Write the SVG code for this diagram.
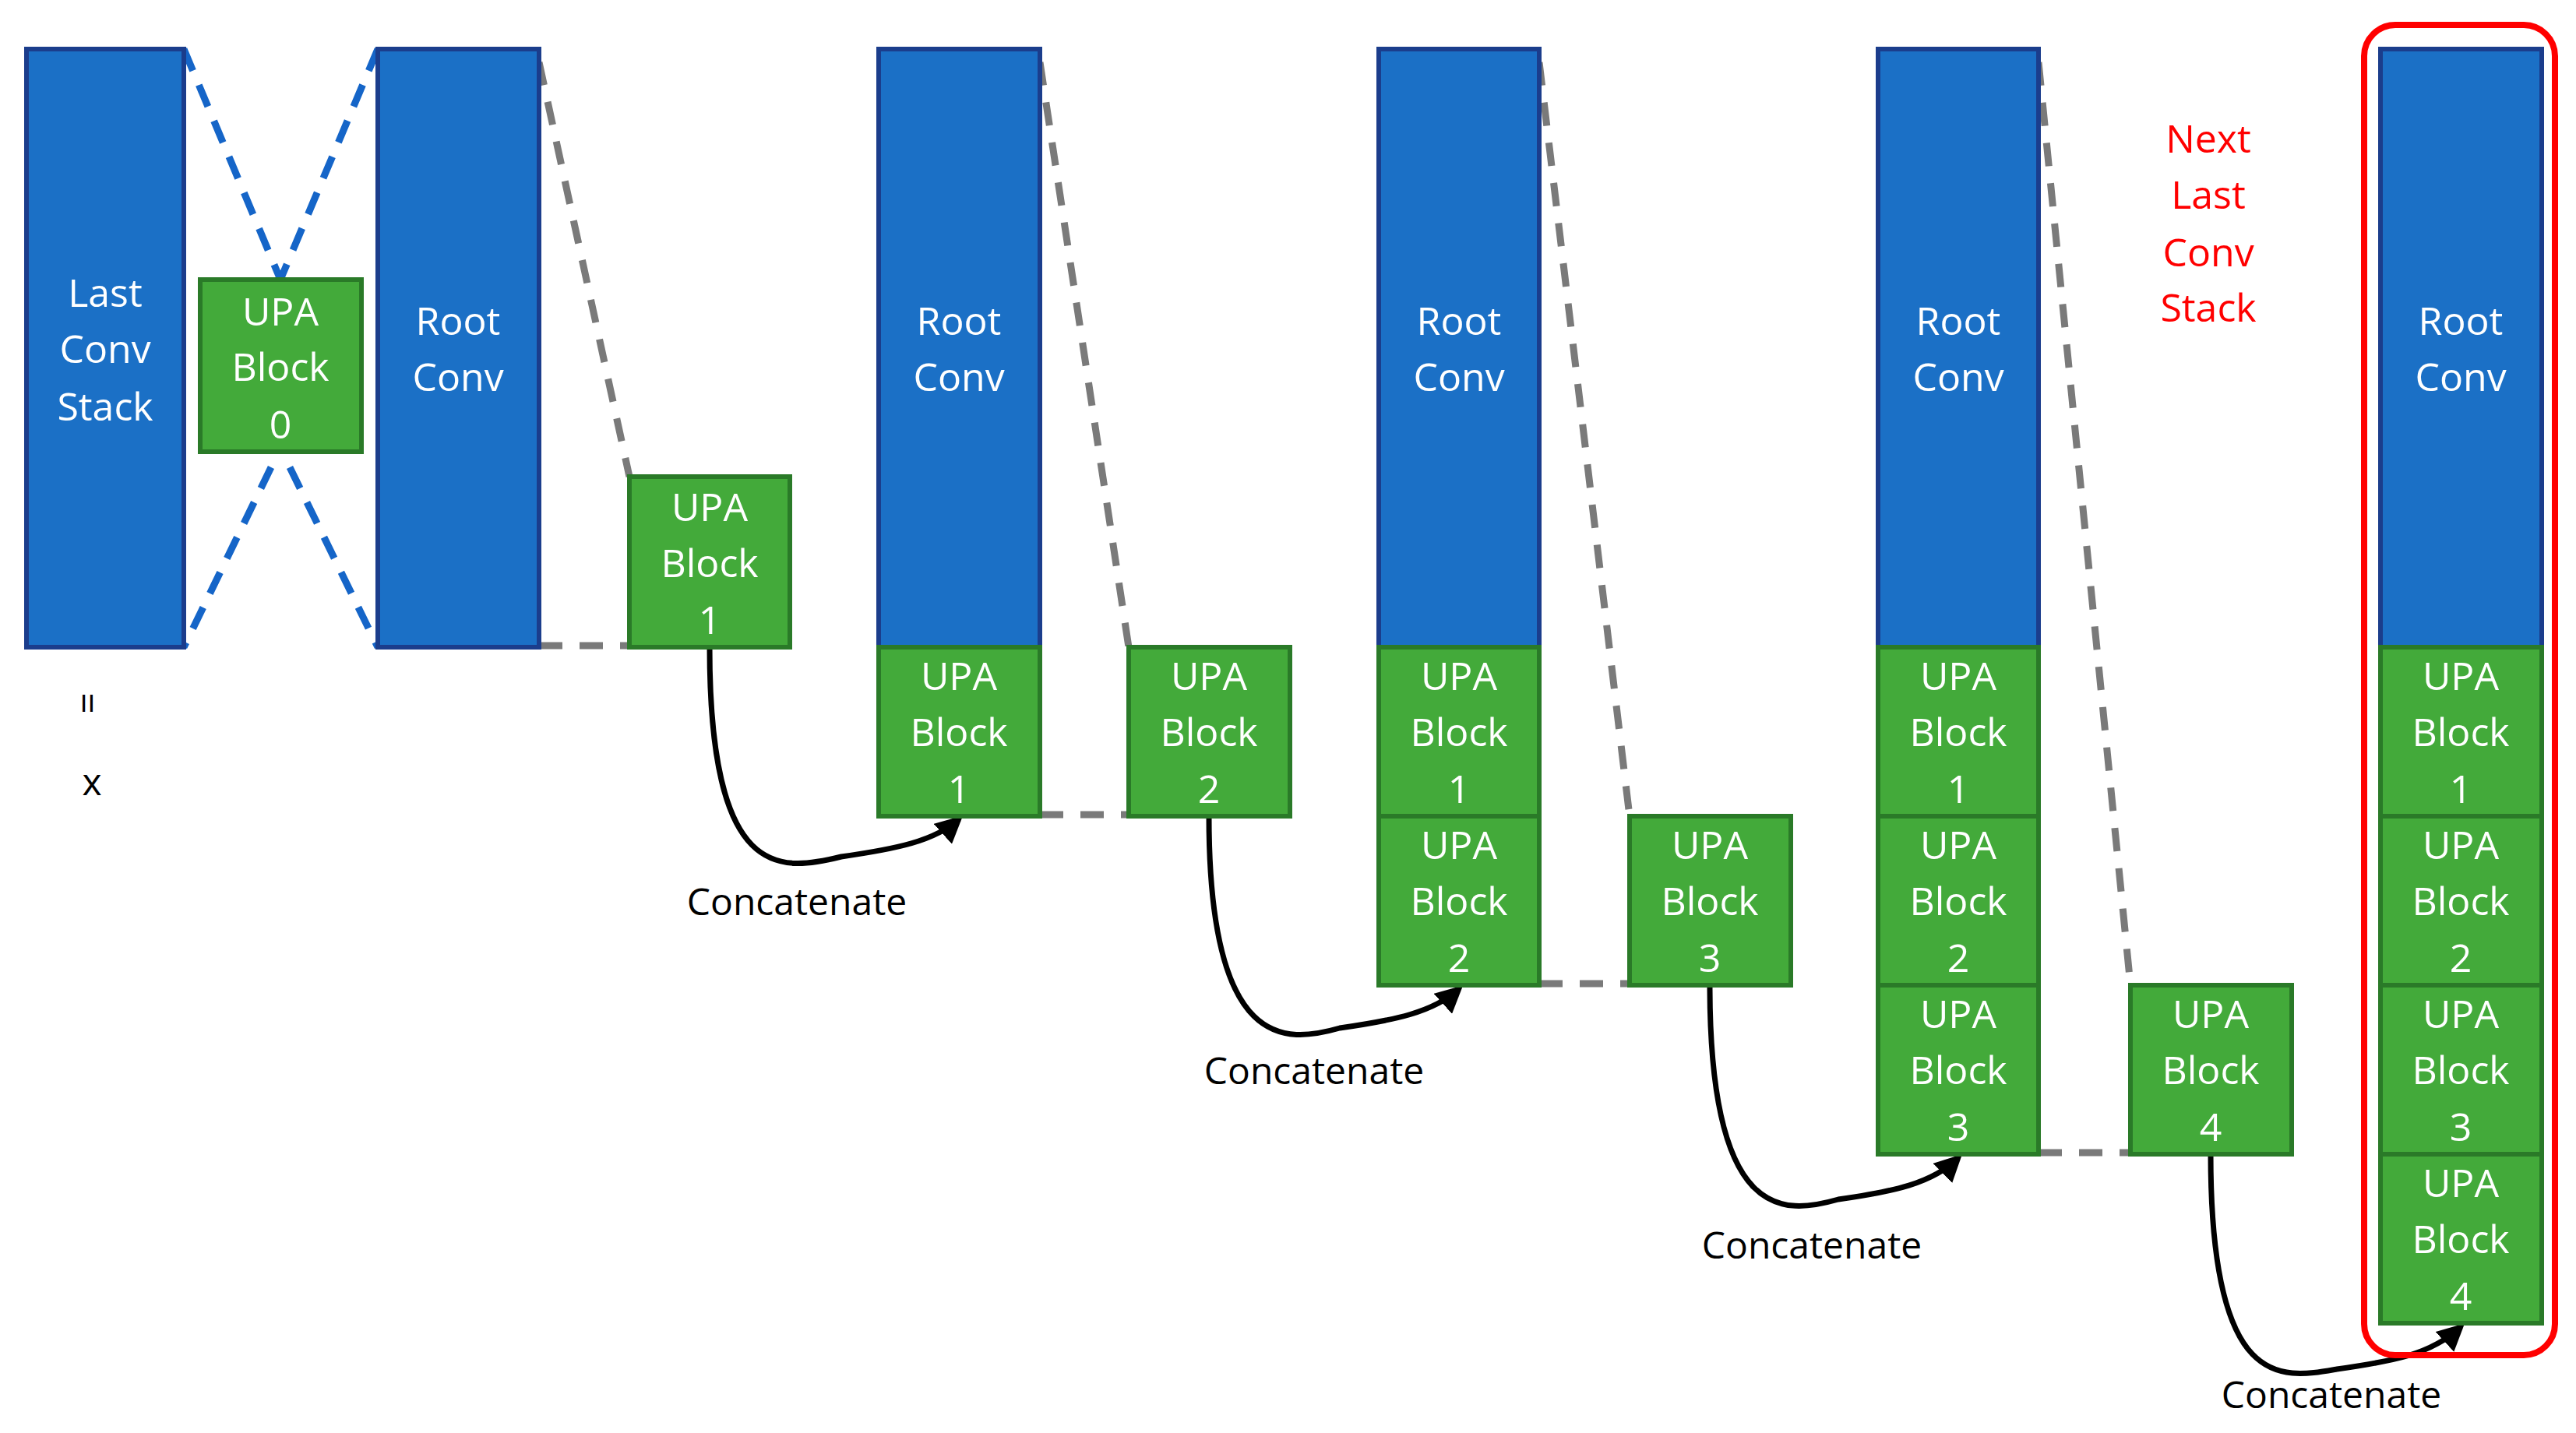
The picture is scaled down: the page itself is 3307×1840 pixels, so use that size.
<svg xmlns="http://www.w3.org/2000/svg" width="3307" height="1840" viewBox="0 0 3307 1840">
<defs>
<style>
.b{fill:#1b70c6;stroke:#1b3d8c;stroke-width:6}
.g{fill:#43aa3a;stroke:#2a7a28;stroke-width:6}
.t{font-family:"Open Sans","Liberation Sans",sans-serif;font-size:50px;fill:#fff;text-anchor:middle;dominant-baseline:central}
.r{font-family:"Open Sans","Liberation Sans",sans-serif;font-size:50px;fill:#f00;text-anchor:middle;dominant-baseline:central}
.k{font-family:"Open Sans","Liberation Sans",sans-serif;font-size:48px;fill:#000;text-anchor:middle;dominant-baseline:central}
.gd{stroke:#7a7a7a;stroke-width:9;stroke-dasharray:30 22;fill:none}
.bd{stroke:#1565c8;stroke-width:9;stroke-dasharray:30 20;fill:none}
.c{stroke:#000;stroke-width:7;fill:none;marker-end:url(#ah)}
</style>
<marker id="ah" viewBox="0 0 10 10" refX="8" refY="5" markerWidth="5" markerHeight="5" orient="auto"><path d="M0,0 L10,5 L0,10 z" fill="#000"/></marker>
</defs>
<g id="connectors">
<path class="bd" d="M236,63 L360,359 M485,63 L360,359 M348,600 L236,831 M372,600 L485,831"/>
<path class="gd" d="M692,80 L808,612 M692,829 L808,829"/>
<path class="gd" d="M1335,80 L1449,831 M1335,1046 L1449,1046"/>
<path class="gd" d="M1976,80 L2092,1048 M1976,1263 L2092,1263"/>
<path class="gd" d="M2617,80 L2735,1265 M2617,1480 L2735,1480"/>
<path class="c" d="M911,831 C911,1130 1000,1120 1080,1100 C1150,1090 1200,1080 1231,1052"/>
<path class="c" d="M1552,1048 C1552,1350 1650,1340 1720,1320 C1790,1310 1840,1300 1873,1270"/>
<path class="c" d="M2195,1265 C2195,1570 2290,1560 2360,1540 C2430,1530 2480,1520 2514,1487"/>
<path class="c" d="M2838,1482 C2838,1790 2930,1770 3000,1758 C3070,1748 3120,1740 3159,1704"/>
</g>
<g id="last-conv"><rect class="b" x="34" y="63" width="202" height="768"/><text class="t" x="135" y="375">Last</text><text class="t" x="135" y="447">Conv</text><text class="t" x="135" y="521">Stack</text></g>
<g id="upa0"><rect class="g" x="257" y="359" width="207" height="221"/><text class="t" x="360" y="399">UPA</text><text class="t" x="360" y="470">Block</text><text class="t" x="360" y="544">0</text></g>
<g id="root1"><rect class="b" x="485" y="63" width="207" height="768"/><text class="t" x="588" y="411">Root</text><text class="t" x="588" y="483">Conv</text></g>
<g id="s1"><rect class="g" x="808" y="612" width="206" height="219"/><text class="t" x="911" y="650">UPA</text><text class="t" x="911" y="722">Block</text><text class="t" x="911" y="795">1</text></g>
<g id="col2"><rect class="b" x="1128" y="63" width="207" height="768"/><text class="t" x="1231" y="411">Root</text><text class="t" x="1231" y="483">Conv</text>
<rect class="g" x="1128" y="831" width="207" height="217"/><text class="t" x="1231" y="867">UPA</text><text class="t" x="1231" y="939">Block</text><text class="t" x="1231" y="1012">1</text></g>
<g id="s2"><rect class="g" x="1449" y="831" width="207" height="217"/><text class="t" x="1552" y="867">UPA</text><text class="t" x="1552" y="939">Block</text><text class="t" x="1552" y="1012">2</text></g>
<g id="col3"><rect class="b" x="1770" y="63" width="206" height="768"/><text class="t" x="1873" y="411">Root</text><text class="t" x="1873" y="483">Conv</text>
<rect class="g" x="1770" y="831" width="206" height="217"/><text class="t" x="1873" y="867">UPA</text><text class="t" x="1873" y="939">Block</text><text class="t" x="1873" y="1012">1</text>
<rect class="g" x="1770" y="1048" width="206" height="217"/><text class="t" x="1873" y="1084">UPA</text><text class="t" x="1873" y="1156">Block</text><text class="t" x="1873" y="1229">2</text></g>
<g id="s3"><rect class="g" x="2092" y="1048" width="207" height="217"/><text class="t" x="2195" y="1084">UPA</text><text class="t" x="2195" y="1156">Block</text><text class="t" x="2195" y="1229">3</text></g>
<g id="col4"><rect class="b" x="2411" y="63" width="206" height="768"/><text class="t" x="2514" y="411">Root</text><text class="t" x="2514" y="483">Conv</text>
<rect class="g" x="2411" y="831" width="206" height="217"/><text class="t" x="2514" y="867">UPA</text><text class="t" x="2514" y="939">Block</text><text class="t" x="2514" y="1012">1</text>
<rect class="g" x="2411" y="1048" width="206" height="217"/><text class="t" x="2514" y="1084">UPA</text><text class="t" x="2514" y="1156">Block</text><text class="t" x="2514" y="1229">2</text>
<rect class="g" x="2411" y="1265" width="206" height="217"/><text class="t" x="2514" y="1301">UPA</text><text class="t" x="2514" y="1373">Block</text><text class="t" x="2514" y="1446">3</text></g>
<g id="s4"><rect class="g" x="2735" y="1265" width="207" height="217"/><text class="t" x="2838" y="1301">UPA</text><text class="t" x="2838" y="1373">Block</text><text class="t" x="2838" y="1446">4</text></g>
<g id="col5"><rect class="b" x="3056" y="63" width="207" height="768"/><text class="t" x="3159" y="411">Root</text><text class="t" x="3159" y="483">Conv</text>
<rect class="g" x="3056" y="831" width="207" height="217"/><text class="t" x="3159" y="867">UPA</text><text class="t" x="3159" y="939">Block</text><text class="t" x="3159" y="1012">1</text>
<rect class="g" x="3056" y="1048" width="207" height="217"/><text class="t" x="3159" y="1084">UPA</text><text class="t" x="3159" y="1156">Block</text><text class="t" x="3159" y="1229">2</text>
<rect class="g" x="3056" y="1265" width="207" height="217"/><text class="t" x="3159" y="1301">UPA</text><text class="t" x="3159" y="1373">Block</text><text class="t" x="3159" y="1446">3</text>
<rect class="g" x="3056" y="1482" width="207" height="217"/><text class="t" x="3159" y="1518">UPA</text><text class="t" x="3159" y="1590">Block</text><text class="t" x="3159" y="1663">4</text></g>
<g id="highlight"><rect x="3035" y="32" width="245" height="1708" rx="40" fill="none" stroke="#f00" stroke-width="8"/></g>
<g id="labels">
<text class="r" x="2835" y="177">Next</text><text class="r" x="2835" y="249">Last</text><text class="r" x="2835" y="323">Conv</text><text class="r" x="2835" y="394">Stack</text>
<text class="k" x="114" y="903" transform="rotate(90 114 903)">=</text>
<text class="k" x="118" y="1002">x</text>
<text class="k" x="1023" y="1156">Concatenate</text>
<text class="k" x="1687" y="1373">Concatenate</text>
<text class="k" x="2326" y="1597">Concatenate</text>
<text class="k" x="2993" y="1789">Concatenate</text>
</g>
</svg>
